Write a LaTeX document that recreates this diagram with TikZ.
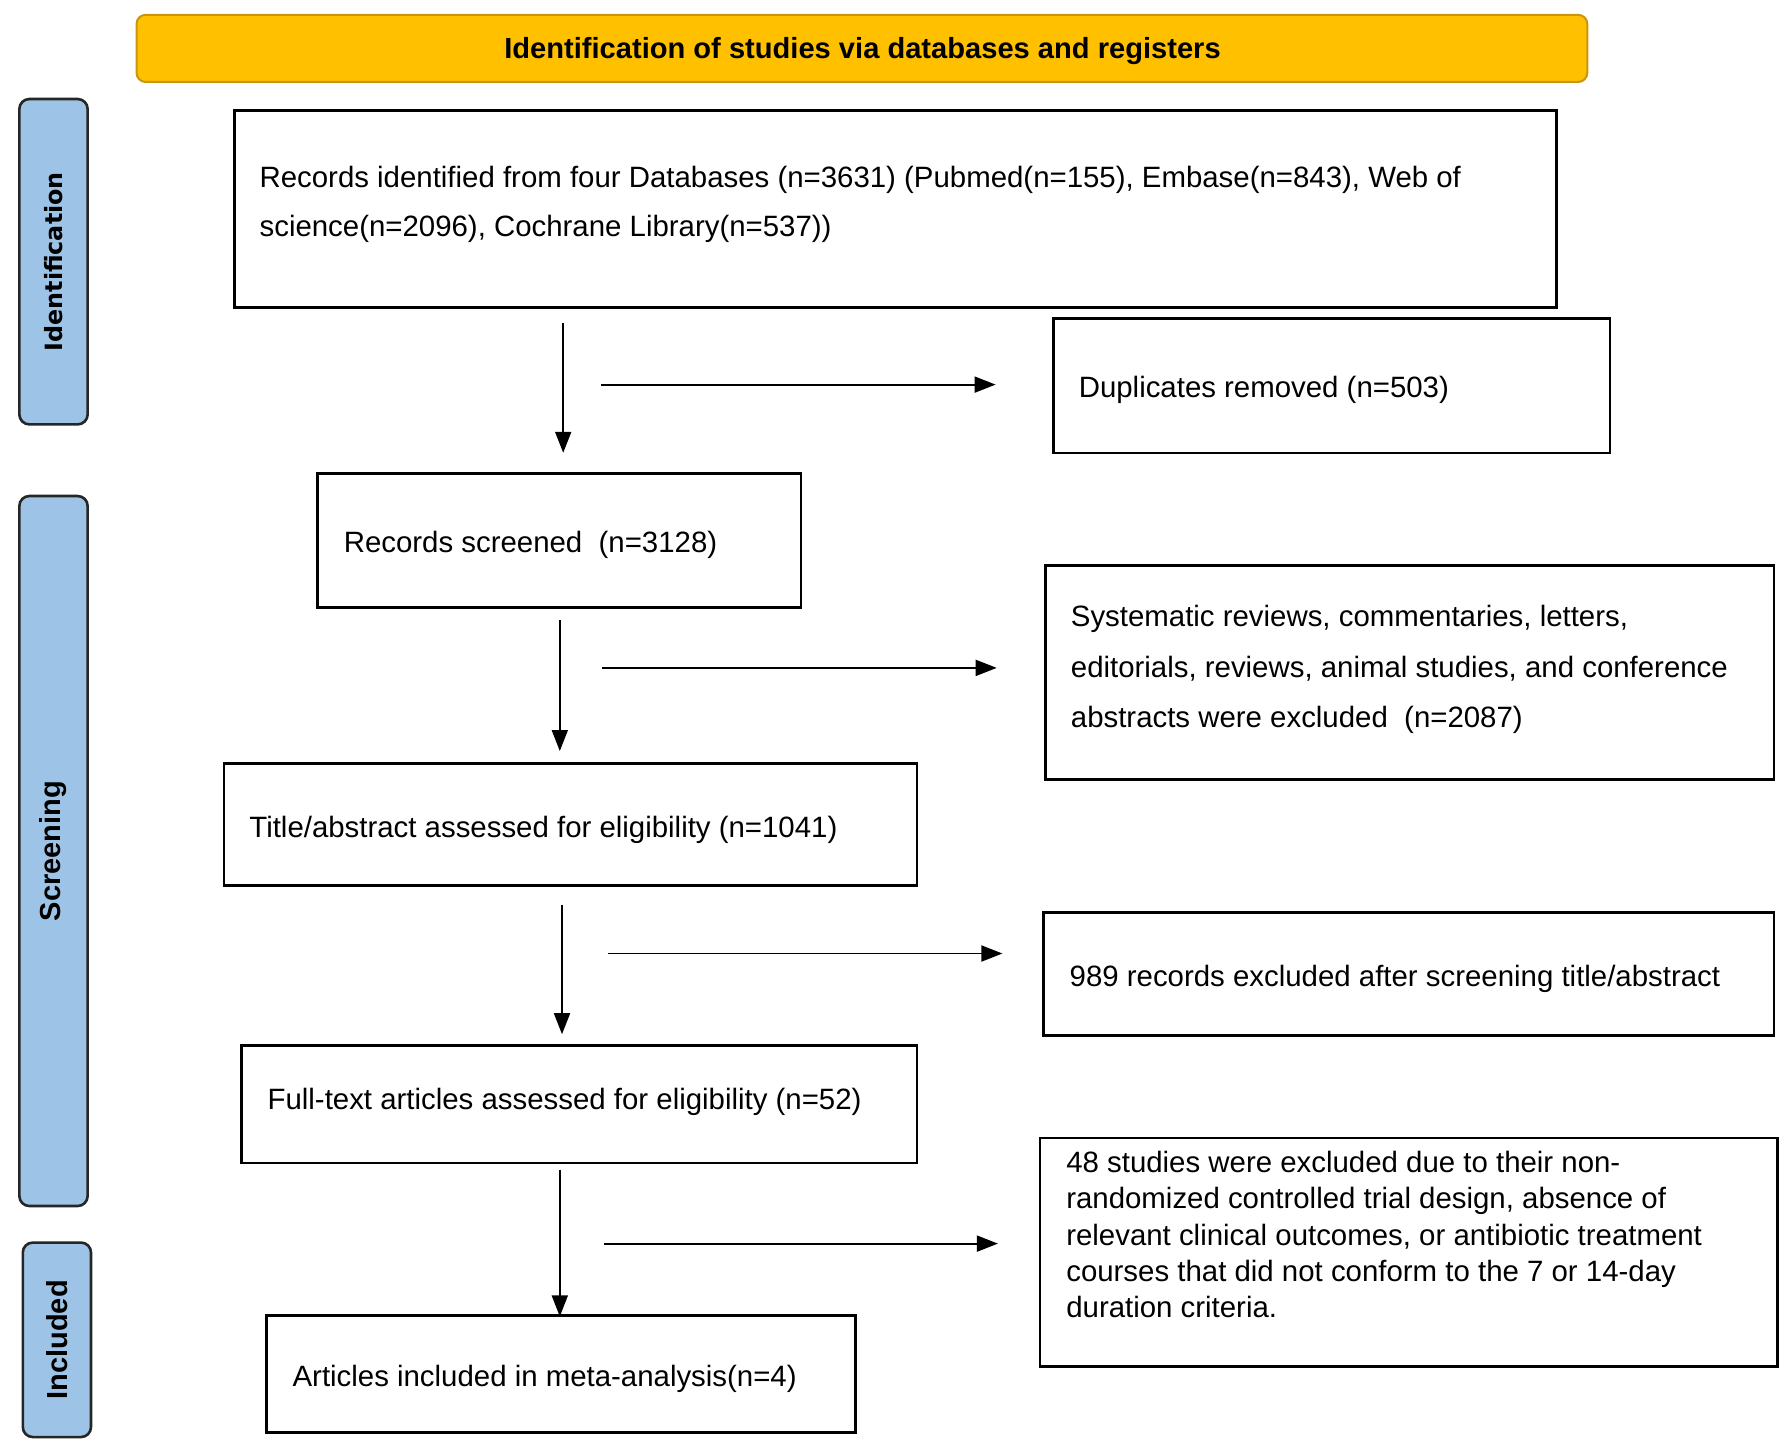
\documentclass[tikz,border=0pt]{standalone}
\usepackage{fontspec}
\setmainfont{Liberation Sans}
\newfontfamily\idfont{DejaVu Sans}
\usetikzlibrary{arrows.meta}
\definecolor{gold}{HTML}{FFC000}
\definecolor{golddark}{HTML}{C8960A}
\definecolor{sideblue}{HTML}{9DC3E6}
\definecolor{sideedge}{HTML}{262626}
\begin{document}
\begin{tikzpicture}[x=1pt,y=-1pt,
  box/.style={draw=black, line width=2.6pt, rectangle, inner sep=0pt},
  txt/.style={inner sep=0pt, align=left, anchor=west, font=\fontsize{29.4}{49}\selectfont},
  side/.style={draw=sideedge, fill=sideblue, line width=2.6pt, rounded corners=10pt, inner sep=0pt},
  sidetxt/.style={rotate=90, inner sep=0pt, font=\bfseries\fontsize{29}{35}\selectfont},
  arr/.style={line width=1.8pt, -{Triangle[length=21pt,width=16pt]}},
]
\useasboundingbox (0,0) rectangle (1784,1451);

% banner
\node[draw=golddark, fill=gold, line width=2pt, rounded corners=9pt,
      minimum width=1450.7pt, minimum height=67.1pt, inner sep=0pt] (banner) at (861.9,48.4) {};
\node[inner sep=0pt, font=\bfseries\fontsize{29.1}{35}\selectfont] (bannert) at (862.5,51.5)
      {Identification of studies via databases and registers};

% side labels
\node[side, minimum width=68.3pt, minimum height=325.4pt] (sideid) at (53.5,261.7) {};
\node[sidetxt, font=\idfont\bfseries\fontsize{23.8}{28}\selectfont] (sideidt) at (sideid.center) {Identification};
\node[side, minimum width=68.3pt, minimum height=710pt] (sidesc) at (53.5,851) {};
\node[sidetxt] (sidesct) at (sidesc.center) {Screening};
\node[side, minimum width=68.2pt, minimum height=194.5pt] (sidein) at (56.9,1339.8) {};
\node[sidetxt] (sideint) at (sidein.center) {Included};

% boxes
\node[box, minimum width=1322pt, minimum height=196.8pt] (rec) at (895.5,208.8) {};
\node[txt] (rect) at (259.4,204.3) {Records identified from four Databases (n=3631) (Pubmed(n=155), Embase(n=843), Web of\\science(n=2096), Cochrane Library(n=537))};

\node[box, minimum width=556.4pt, minimum height=134.2pt] (dup) at (1331.8,385.7) {};
\node[txt] (dupt) at (1078.6,390.3) {Duplicates removed (n=503)};

\node[box, minimum width=483.6pt, minimum height=134.3pt] (scr) at (559.2,540.5) {};
\node[txt] (scrt) at (343.6,545) {Records screened\ \ (n=3128)};

\node[box, minimum width=728.2pt, minimum height=213.9pt] (sys) at (1409.7,672.5) {};
\node[txt, font=\fontsize{29.4}{50.6}\selectfont] (syst) at (1070.7,669.6) {Systematic reviews, commentaries, letters,\\editorials, reviews, animal studies, and conference\\abstracts were excluded\ \ (n=2087)};

\node[box, minimum width=692.9pt, minimum height=121.7pt] (tit) at (570.6,824.4) {};
\node[txt] (titt) at (249.2,829.4) {Title/abstract assessed for eligibility (n=1041)};

\node[box, minimum width=730.4pt, minimum height=122.9pt] (exc) at (1408.6,974) {};
\node[txt] (exct) at (1069.5,978.4) {989 records excluded after screening title/abstract};

\node[box, minimum width=675.8pt, minimum height=117.2pt] (ful) at (579.1,1104.2) {};
\node[txt] (fult) at (267.4,1101.4) {Full-text articles assessed for eligibility (n=52)};

\node[box, minimum width=737.2pt, minimum height=228.7pt] (std) at (1408.6,1252.2) {};
\node[txt, font=\fontsize{29.4}{36.2}\selectfont] (stdt) at (1066.1,1234.5) {48 studies were excluded due to their non-\\randomized controlled trial design, absence of\\relevant clinical outcomes, or antibiotic treatment\\courses that did not conform to the 7 or 14-day\\duration criteria.};

\node[box, minimum width=589.4pt, minimum height=117.3pt] (art) at (560.9,1374) {};
\node[txt] (artt) at (292.4,1379) {Articles included in meta-analysis(n=4)};

% arrows
\coordinate (v1s) at (563.2,323);   \coordinate (v1e) at (563.2,452.8);
\coordinate (h1s) at (600.8,384.6); \coordinate (h1e) at (995.6,384.6);
\coordinate (v2s) at (559.8,620);   \coordinate (v2e) at (559.8,751);
\coordinate (h2s) at (601.9,667.9); \coordinate (h2e) at (996.7,667.9);
\coordinate (v3s) at (562,904.5);   \coordinate (v3e) at (562,1034.2);
\coordinate (h3s) at (607.6,953.5); \coordinate (h3e) at (1002.4,953.5);
\coordinate (v4s) at (559.8,1169.7);\coordinate (v4e) at (559.8,1316.4);
\coordinate (h4s) at (604.2,1243.6);\coordinate (h4e) at (997.9,1243.6);
\foreach \a in {v1,h1,v2,h2,v3,h3,v4,h4} \draw[arr] (\a s) -- (\a e);
\end{tikzpicture}
\end{document}
